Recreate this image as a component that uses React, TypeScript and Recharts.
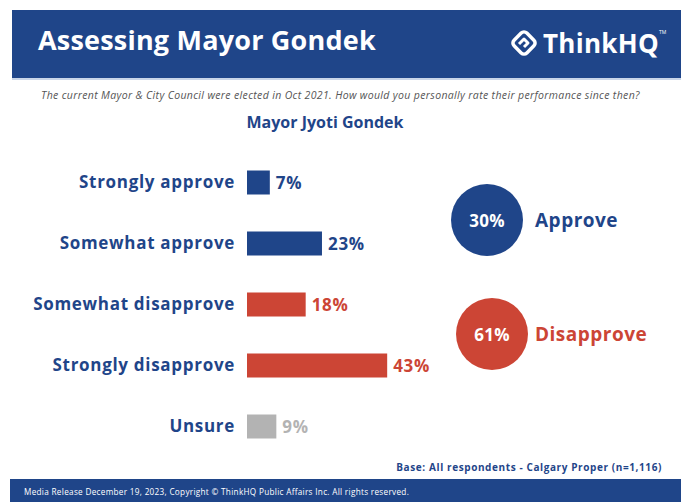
import React from "react";
import { Bar, BarChart, Cell, LabelList, XAxis, YAxis } from "recharts";

const categories = ["Strongly approve", "Somewhat approve", "Somewhat disapprove", "Strongly disapprove", "Unsure"];
const values = [7, 23, 18, 43, 9];
const barColors = ["#1f4589", "#1f4589", "#cc4535", "#cc4535", "#b3b3b3"];
const summaryLabels = ["Approve", "Disapprove"];
const summaryValues = [30, 61];
const summaryColors = ["#1f4589", "#cc4535"];

const data = categories.map((name, i) => ({ name, v: values[i] }));

const FONT = "'Open Sans', sans-serif";
const BLUE = "#1f4589";

const ValueLabel = (props: any) => {
    const { x, y, width, height, value, index } = props;
    return (
        <text x={x + width + 6} y={y + height / 2} dy="0.36em" fill={barColors[index]}
            fontFamily={FONT} fontWeight={700} fontSize={17} letterSpacing={0.7}>
            {value}%
        </text>
    );
};

const Logo = () => (
    <div style={{ position: "absolute", left: 508, top: 25, display: "flex", alignItems: "center", color: "white" }}>
        <svg width="32" height="32" viewBox="0 0 32 32">
            <rect x="7" y="7" width="18" height="18" rx="4" transform="rotate(45 16 16)" fill="none" stroke="white" strokeWidth="3.5" />
            <path d="M11 17 L16 12 L20 16 L16 20" fill="none" stroke="white" strokeWidth="3" strokeLinejoin="round" />
        </svg>
        <span style={{ fontFamily: FONT, fontWeight: 700, fontSize: 26, marginLeft: 3, letterSpacing: 0.3 }}>ThinkHQ</span>
        <span style={{ fontFamily: FONT, fontSize: 5, alignSelf: "flex-start", marginTop: 4 }}>TM</span>
    </div>
);

const App = () => {
    return (
        <div style={{ position: "fixed", left: 0, top: 0, width: 681, height: 502, background: "white", overflow: "hidden", fontFamily: FONT }}>
            <div style={{ position: "absolute", left: 12, top: 10, width: 669, height: 68, background: BLUE }} />
            <div style={{ position: "absolute", left: 12, top: 78, width: 669, height: 2, background: "#c9d5e8" }} />
            <div style={{ position: "absolute", left: 38, top: 21, color: "white", fontWeight: 700, fontSize: 27, letterSpacing: 0.2 }}>
                Assessing Mayor Gondek
            </div>
            <Logo />
            <div style={{ position: "absolute", left: 0, width: 681, top: 88, textAlign: "center", fontStyle: "italic", fontSize: 10.5, letterSpacing: 0.35, color: "#555" }}>
                The current Mayor &amp; City Council were elected in Oct 2021. How would you personally rate their performance since then?
            </div>
            <div style={{ position: "absolute", left: 0, width: 650, top: 111, textAlign: "center", fontWeight: 700, fontSize: 16, color: BLUE }}>
                Mayor Jyoti Gondek
            </div>

            <div style={{ position: "absolute", left: 0, top: 0 }}>
                <BarChart layout="vertical" data={data} width={681} height={502}
                    margin={{ top: 151.5, right: 108, bottom: 45.5, left: 0 }} barSize={24}>
                    <XAxis type="number" domain={[0, 100]} hide />
                    <YAxis type="category" dataKey="name" width={247} axisLine={false} tickLine={false}
                        tickSize={0} tickMargin={12}
                        tick={{ fill: BLUE, fontFamily: FONT, fontWeight: 700, fontSize: 17, letterSpacing: 0.7 }} />
                    <Bar dataKey="v" isAnimationActive={false}>
                        {data.map((d, i) => (
                            <Cell key={i} fill={barColors[i]} />
                        ))}
                        <LabelList dataKey="v" content={ValueLabel} />
                    </Bar>
                </BarChart>
            </div>

            {summaryLabels.map((label, i) => (
                <div key={label} style={{ position: "absolute", left: i === 0 ? 451 : 456, top: i === 0 ? 184 : 298, display: "flex", alignItems: "center" }}>
                    <div style={{ width: 72, height: 72, borderRadius: 36, background: summaryColors[i], color: "white",
                        display: "flex", alignItems: "center", justifyContent: "center", fontWeight: 700, fontSize: 17, letterSpacing: 0.3 }}>
                        {summaryValues[i]}%
                    </div>
                    <span style={{ color: summaryColors[i], fontWeight: 700, fontSize: 19, letterSpacing: 0.5, marginLeft: i === 0 ? 12 : 7 }}>{label}</span>
                </div>
            ))}

            <div style={{ position: "absolute", right: 19, top: 460, fontWeight: 700, fontSize: 10, letterSpacing: 0.6, color: BLUE }}>
                Base: All respondents - Calgary Proper (n=1,116)
            </div>
            <div style={{ position: "absolute", left: 10, top: 479, width: 671, height: 23, background: BLUE }} />
            <div style={{ position: "absolute", left: 24, top: 486, color: "white", fontSize: 8.2, letterSpacing: 0.3 }}>
                Media Release December 19, 2023, Copyright © ThinkHQ Public Affairs Inc. All rights reserved.
            </div>
        </div>
    );
};

export default App;
